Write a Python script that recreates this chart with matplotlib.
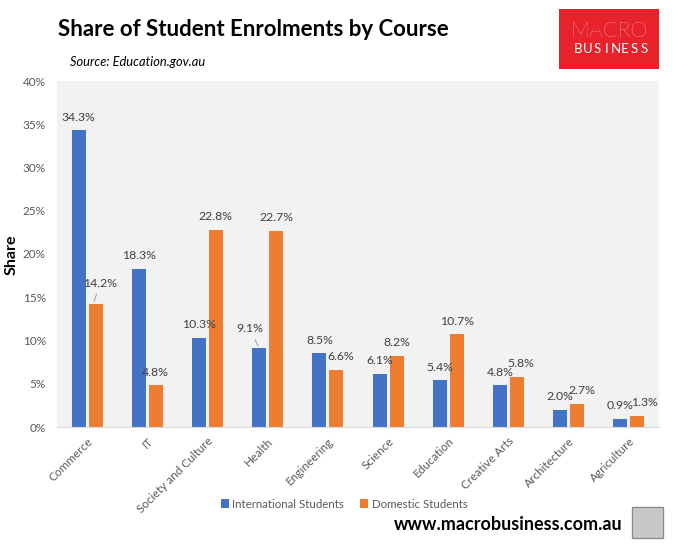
import numpy as np
import matplotlib.pyplot as plt
from matplotlib.patches import Rectangle
from matplotlib.ticker import PercentFormatter

plt.rcParams['font.family'] = ['Lato', 'DejaVu Sans']

courses = ['Commerce', 'IT', 'Society and Culture', 'Health', 'Engineering',
           'Science', 'Education', 'Creative Arts', 'Architecture', 'Agriculture']
international = [34.3, 18.3, 10.3, 9.1, 8.5, 6.1, 5.4, 4.8, 2.0, 0.9]
domestic = [14.2, 4.8, 22.8, 22.7, 6.6, 8.2, 10.7, 5.8, 2.7, 1.3]

blue = '#4472c4'
orange = '#ed7d31'
grey_txt = '#595959'
lbl_size = 8.8

# labels Excel pushed sideways where they crowd the blue one
nudge = {'Engineering': 0.08, 'Creative Arts': 0.07, 'Architecture': 0.08, 'Agriculture': 0.11}

fig = plt.figure(figsize=(6.77, 5.5), dpi=100)
ax = fig.add_axes([57/677, 1 - 427/550, 602/677, 346/550])
ax.set_facecolor('#f2f2f2')

x = np.arange(len(courses))
w = 0.233
b1 = ax.bar(x - 0.14, international, w, color=blue, label='International Students')
b2 = ax.bar(x + 0.14, domestic, w, color=orange, label='Domestic Students')

# data labels (two were moved by hand in the original, with leader lines)
for i, v in enumerate(international):
    if courses[i] == 'Health':
        ax.annotate(f'{v:.1f}%', xy=(x[i] - 0.14, v), xytext=(x[i] - 0.30, v + 1.6),
                    ha='center', va='bottom', fontsize=lbl_size, color='#404040',
                    arrowprops=dict(arrowstyle='-', color='#a6a6a6', lw=0.8))
    else:
        ax.text(x[i] - 0.14, v + 0.9, f'{v:.1f}%', ha='center', va='bottom',
                fontsize=lbl_size, color='#404040')
for i, v in enumerate(domestic):
    if courses[i] == 'Commerce':
        ax.annotate(f'{v:.1f}%', xy=(x[i] + 0.10, v), xytext=(x[i] + 0.22, v + 1.8),
                    ha='center', va='bottom', fontsize=lbl_size, color='#404040',
                    arrowprops=dict(arrowstyle='-', color='#a6a6a6', lw=0.8))
    else:
        ax.text(x[i] + 0.14 + nudge.get(courses[i], 0), v + 0.9, f'{v:.1f}%',
                ha='center', va='bottom', fontsize=lbl_size, color='#404040')

ax.set_xlim(-0.5, len(courses) - 0.5)
ax.set_ylim(0, 40)
ax.set_yticks(np.arange(0, 41, 5))
ax.yaxis.set_major_formatter(PercentFormatter(decimals=0))
ax.set_xticks(x)
ax.set_xticklabels(courses, rotation=45, ha='right', rotation_mode='anchor')
ax.tick_params(axis='both', length=0, labelsize=8.5, colors=grey_txt)
ax.tick_params(axis='x', pad=6)
ax.tick_params(axis='y', pad=8)
for s in ['top', 'right', 'left']:
    ax.spines[s].set_visible(False)
ax.spines['bottom'].set_color('#d9d9d9')

fig.text(12/677, 1 - 255/550, 'Share', fontsize=11.5, fontweight='bold', rotation=90,
         ha='center', va='center')

leg = fig.legend(handles=[b1, b2], loc='center', bbox_to_anchor=(344/677, 1 - 504/550),
                 ncol=2, frameon=False, fontsize=8.3, handlelength=0.7, handleheight=0.7,
                 columnspacing=1.4, handletextpad=0.3)
for t in leg.get_texts():
    t.set_color(grey_txt)

fig.text(58/677, 1 - 30/550, 'Share of Student Enrolments by Course', fontsize=16,
         fontweight='bold', va='center', ha='left')
fig.text(70/677, 1 - 62/550, 'Source: Education.gov.au', fontsize=9.3, style='italic',
         va='center', ha='left')

# logo
fig.patches.append(Rectangle((559/677, 1 - 69/550), 100/677, 60/550, transform=fig.transFigure,
                             facecolor='#e8222b', edgecolor='none'))
fig.text(609/677, 1 - 31/550, 'MACRO', fontsize=15.5, color='white', ha='center', va='center',
         fontweight='light')
for k, ch in enumerate('BUSINESS'):
    fig.text((578 + k * 9.4)/677, 1 - 49/550, ch, fontsize=9.5, color='white',
             ha='center', va='center')

fig.text(622/677, 1 - 525/550, 'www.macrobusiness.com.au', fontsize=13, fontweight='bold',
         ha='right', va='center')
fig.patches.append(Rectangle((632/677, 1 - 538/550), 31/677, 31/550, transform=fig.transFigure,
                             facecolor='#c8c8c8', edgecolor='#8c8c8c', lw=1))

fig.savefig('out.png', dpi=100)
